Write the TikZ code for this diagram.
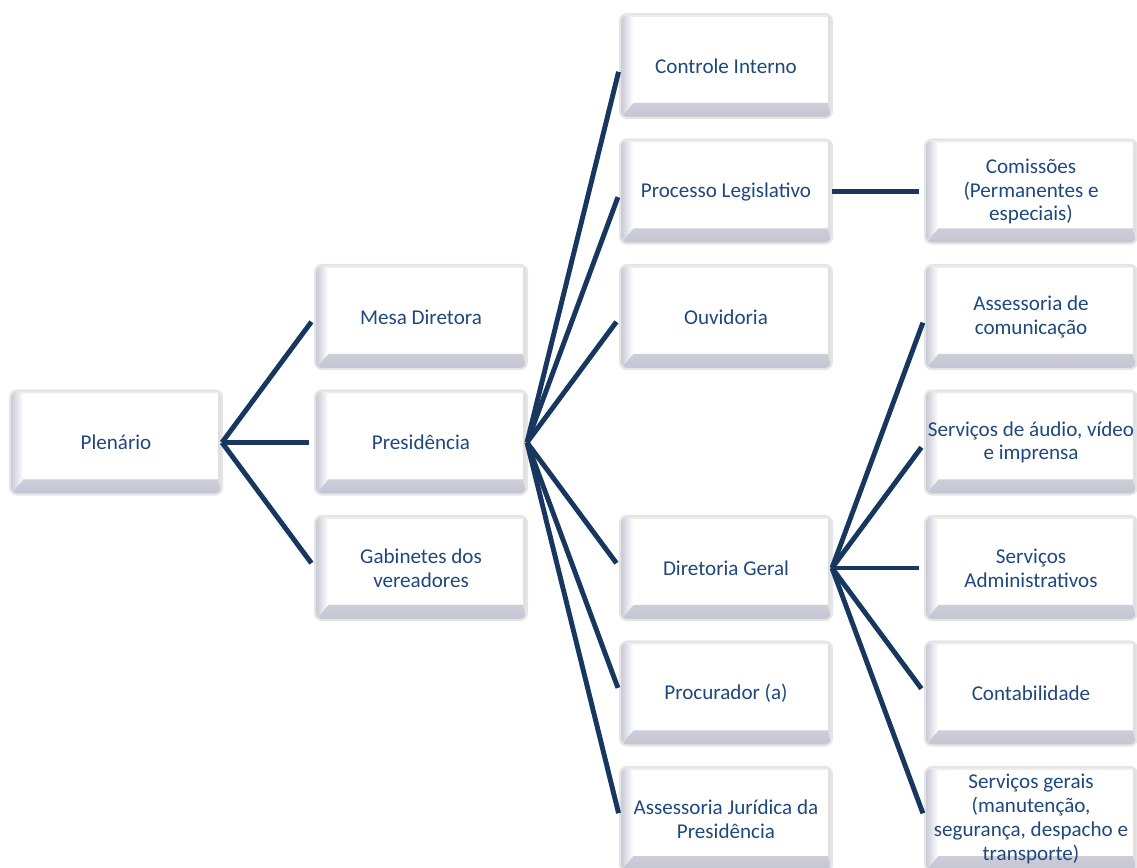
\documentclass[tikz,border=0pt]{standalone}
\usepackage{fontspec}
\setmainfont{Carlito}
\usepackage{tikz}
\usetikzlibrary{positioning}
\definecolor{colorLink}{RGB}{23,55,94}
\definecolor{colorLabel}{RGB}{31,73,125}
\definecolor{colorBevel}{RGB}{196,197,210}
\tikzset{unit/.style={draw=black!10, line width=1.2pt, rounded corners=4pt, fill=white, outer sep=0pt, inner sep=1pt,
    minimum width=4.24cm, minimum height=2.08cm, align=center, text=colorLabel, font=\fontsize{12}{13.5}\selectfont,
    path picture={
      \fill[sharp corners, top color=white, bottom color=colorBevel] (path picture bounding box.south west) -- (path picture bounding box.south east) -- ([shift={(-0.08,0.3)}]path picture bounding box.south east) -- ([shift={(0.26,0.3)}]path picture bounding box.south west) -- cycle;
      \fill[sharp corners, left color=colorBevel, right color=white] (path picture bounding box.south west) -- ([shift={(0.26,0.3)}]path picture bounding box.south west) -- ([shift={(0.26,-0.06)}]path picture bounding box.north west) -- (path picture bounding box.north west) -- cycle;
      \fill[sharp corners, black!7] (path picture bounding box.north west) -- (path picture bounding box.north east) -- ([shift={(-0.08,-0.06)}]path picture bounding box.north east) -- ([shift={(0.26,-0.06)}]path picture bounding box.north west) -- cycle;
      \fill[sharp corners, black!12] (path picture bounding box.north east) -- (path picture bounding box.south east) -- ([shift={(-0.08,0.3)}]path picture bounding box.south east) -- ([shift={(-0.08,-0.06)}]path picture bounding box.north east) -- cycle;
    }},
  link/.style={draw=colorLink, line width=2.8pt, shorten >=0.12cm}}

\begin{document}
\begin{tikzpicture}[node distance=0.43cm and 1.86cm]
\useasboundingbox (0,0) rectangle (22.74,-17.36);
\node[unit] (pl) at (2.32,-8.85) {Plenário};
\node[unit, right=of pl] (pres) {Presidência};
\node[unit, above=of pres] (mesa) {Mesa Diretora};
\node[unit, below=of pres] (gab) {Gabinetes dos\\vereadores};
\node[unit, right=of mesa] (ouv) {Ouvidoria};
\node[unit, above=of ouv] (pleg) {Processo Legislativo};
\node[unit, above=of pleg] (ci) {Controle Interno};
\node[unit, right=of gab] (dg) {Diretoria Geral};
\node[unit, below=of dg] (proc) {Procurador (a)};
\node[unit, below=of proc] (asj) {Assessoria Jurídica da\\Presidência};
\node[unit, right=of pleg] (com) {Comissões\\(Permanentes e\\especiais)};
\node[unit, right=of ouv] (ascom) {Assessoria de\\comunicação};
\node[unit, below=of ascom] (aud) {Serviços de áudio, vídeo\\e imprensa};
\node[unit, right=of dg] (adm) {Serviços\\Administrativos};
\node[unit, right=of proc] (cont) {Contabilidade};
\node[unit, right=of asj] (sg) {Serviços gerais\\(manutenção,\\segurança, despacho e\\transporte)};
\draw[link] (pl.east) -- (mesa.west);
\draw[link] (pl.east) -- (pres.west);
\draw[link] (pl.east) -- (gab.west);
\draw[link] (pres.east) -- (ci.west);
\draw[link] (pres.east) -- (pleg.west);
\draw[link] (pres.east) -- (ouv.west);
\draw[link] (pres.east) -- (dg.west);
\draw[link] (pres.east) -- (proc.west);
\draw[link] (pres.east) -- (asj.west);
\draw[link] (pleg.east) -- (com.west);
\draw[link] (dg.east) -- (ascom.west);
\draw[link] (dg.east) -- (aud.west);
\draw[link] (dg.east) -- (adm.west);
\draw[link] (dg.east) -- (cont.west);
\draw[link] (dg.east) -- (sg.west);
\end{tikzpicture}
\end{document}
